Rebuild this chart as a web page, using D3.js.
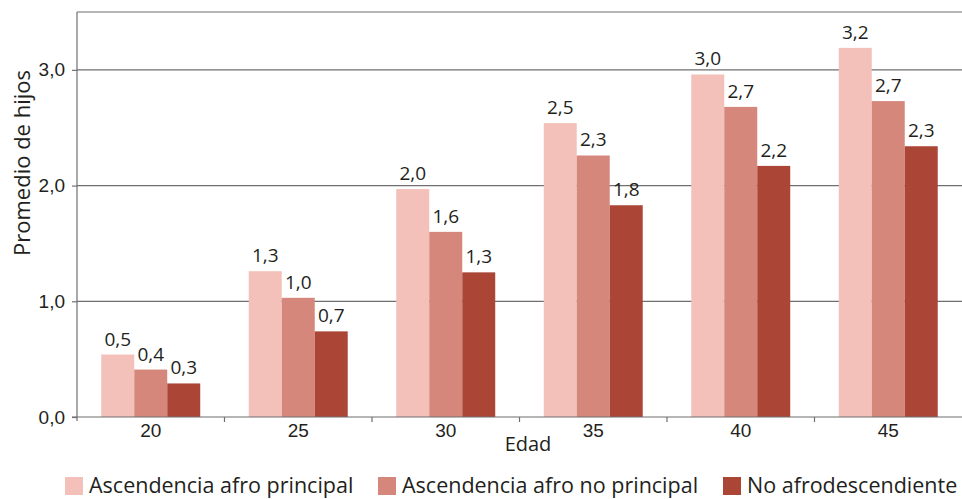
<!DOCTYPE html>
<html lang="es">
<head>
  <meta charset="UTF-8">
  <title>Promedio de hijos por edad</title>
  <script src="https://cdn.jsdelivr.net/npm/d3@7"></script>
  <style>
  body { margin: 0; padding: 0; background: #fff; }
  svg { display: block; font-family: "Open Sans", sans-serif; }
  .grid line { stroke: #6f6f6f; stroke-width: 1.2px; }
  .axis path, .axis line { stroke: #6f6f6f; stroke-width: 1.2px; }
  .axis text { fill: #231f20; font-size: 19px; }
  .barLabel { fill: #231f20; font-size: 19px; text-anchor: middle; }
  .axisLabel { fill: #231f20; font-size: 20px; }
  .legend text { fill: #231f20; font-size: 21.5px; }
  </style>
</head>
<body>
  <div id="chart"></div>
<script>
  // datos
  var edades = ['20', '25', '30', '35', '40', '45'];
  var series = ['Ascendencia afro principal', 'Ascendencia afro no principal', 'No afrodescendiente'];
  var afroPrincipal   = [0.54, 1.26, 1.97, 2.54, 2.96, 3.19];
  var afroNoPrincipal = [0.41, 1.03, 1.60, 2.26, 2.68, 2.73];
  var noAfro          = [0.29, 0.74, 1.25, 1.83, 2.17, 2.34];
  var yTicks = [0, 1, 2, 3];
  var colores = ['#f3c1ba', '#d6877b', '#ab4637'];

  var width = 962, height = 499;
  var mLeft = 77, mRight = 962, mTop = 12, mBottom = 417;

  var valores = [afroPrincipal, afroNoPrincipal, noAfro];
  var data = edades.map(function(e, i) {
    return { edad: e, vals: series.map(function(s, j) { return { serie: s, v: valores[j][i] }; }) };
  });

  var svg = d3.select('#chart').append('svg')
    .attr('width', width)
    .attr('height', height);

  var x0 = d3.scaleBand().domain(edades).range([mLeft, mRight])
    .paddingInner(0.329).paddingOuter(0.1645);
  var x1 = d3.scaleBand().domain(series).range([0, x0.bandwidth()]);
  var y = d3.scaleLinear().domain([0, 3.5]).range([mBottom, mTop]);
  var color = d3.scaleOrdinal().domain(series).range(colores);

  var fmt = function(v) { return d3.format('.1f')(v).replace('.', ','); };

  // lineas de cuadricula
  svg.append('g').attr('class', 'grid')
    .selectAll('line')
    .data([1, 2, 3, 3.5])
    .enter().append('line')
    .attr('x1', mLeft)
    .attr('x2', mRight)
    .attr('y1', function(d) { return y(d); })
    .attr('y2', function(d) { return y(d); });

  // eje y
  var yAxis = d3.axisLeft(y).tickValues(yTicks).tickSize(5).tickPadding(7).tickFormat(fmt);
  var yAxisG = svg.append('g').attr('class', 'axis')
    .attr('transform', 'translate(' + mLeft + ',0)')
    .call(yAxis);
  yAxisG.select('.domain').remove();
  yAxisG.append('line').attr('x1', 0).attr('x2', 0).attr('y1', mTop).attr('y2', mBottom + 4);

  // barras
  var grupos = svg.selectAll('.grupo')
    .data(data)
    .enter().append('g')
    .attr('class', 'grupo')
    .attr('transform', function(d) { return 'translate(' + x0(d.edad) + ',0)'; });

  grupos.selectAll('rect')
    .data(function(d) { return d.vals; })
    .enter().append('rect')
    .attr('x', function(d) { return x1(d.serie); })
    .attr('y', function(d) { return y(d.v); })
    .attr('width', x1.bandwidth())
    .attr('height', function(d) { return y(0) - y(d.v); })
    .attr('fill', function(d) { return color(d.serie); });

  grupos.selectAll('.barLabel')
    .data(function(d) { return d.vals; })
    .enter().append('text')
    .attr('class', 'barLabel')
    .attr('x', function(d) { return x1(d.serie) + x1.bandwidth() / 2; })
    .attr('y', function(d) { return y(d.v) - 9; })
    .text(function(d) { return fmt(d.v); });

  // eje x
  var xAxis = d3.axisBottom(x0).tickSize(0).tickPadding(7);
  var xAxisG = svg.append('g').attr('class', 'axis')
    .attr('transform', 'translate(0,' + mBottom + ')')
    .call(xAxis);
  xAxisG.select('.domain').remove();
  xAxisG.append('line').attr('x1', mLeft - 5).attr('x2', mRight).attr('y1', 0).attr('y2', 0);
  xAxisG.selectAll('.sep')
    .data(edades.slice(1))
    .enter().append('line')
    .attr('class', 'sep')
    .attr('x1', function(d) { return x0(d) - x0.step() * x0.paddingInner() / 2; })
    .attr('x2', function(d) { return x0(d) - x0.step() * x0.paddingInner() / 2; })
    .attr('y1', 0).attr('y2', 5);

  // titulos de ejes
  svg.append('text').attr('class', 'axisLabel')
    .attr('x', 528).attr('y', 451)
    .attr('text-anchor', 'middle')
    .text('Edad');

  svg.append('text').attr('class', 'axisLabel')
    .style('font-size', '22px')
    .attr('transform', 'translate(30,163) rotate(-90)')
    .attr('text-anchor', 'middle')
    .text('Promedio de hijos');

  // leyenda
  var legX = [65, 378, 723];
  var leg = svg.append('g').attr('class', 'legend')
    .selectAll('g')
    .data(series)
    .enter().append('g')
    .attr('transform', function(d, i) { return 'translate(' + legX[i] + ',477)'; });
  leg.append('rect').attr('width', 18).attr('height', 18)
    .attr('fill', function(d) { return color(d); });
  leg.append('text').attr('x', 24).attr('y', 16).text(function(d) { return d; });
</script>
</body>
</html>
